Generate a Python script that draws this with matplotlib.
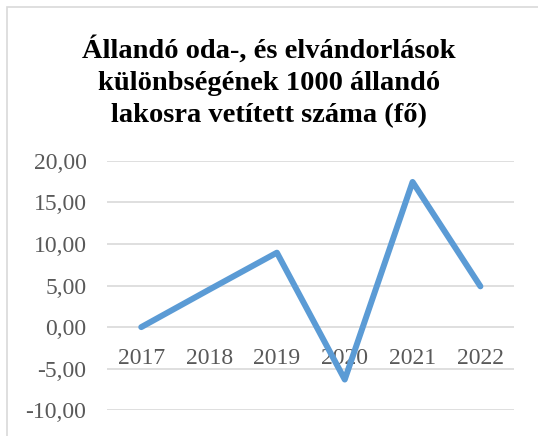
import matplotlib.pyplot as plt
import matplotlib.patches as mpatches
from matplotlib.ticker import FuncFormatter

OUTPUT_IMAGE = "out.png"

# ── Data ───────────────────────────────────────────
years  = ["2017", "2018", "2019", "2020", "2021", "2022"]
values = [0.0, 4.5, 8.95, -6.3, 17.45, 4.9]
y_ticks = [-10, -5, 0, 5, 10, 15, 20]

TITLE = ("Állandó oda-, és elvándorlások\n"
         "különbségének 1000 állandó\n"
         "lakosra vetített száma (fő)")

LINE_COLOR = "#5B9BD5"
GRID_COLOR = "#D9D9D9"
TEXT_COLOR = "#595959"
SERIF = ["Liberation Serif", "DejaVu Serif"]

fig = plt.figure(figsize=(5.38, 4.36), dpi=100)
ax = fig.add_axes([0.1995, 0.0589, 0.7565, 0.5725])

# chart-area border (only left/top edges show in the crop)
fig.patches.append(mpatches.Rectangle((7 / 538, -0.1), 1.2, (436 - 7) / 436 + 0.1,
                                      transform=fig.transFigure, fill=False,
                                      edgecolor=GRID_COLOR, linewidth=1.2))

x = list(range(len(years)))
ax.plot(x, values, color=LINE_COLOR, linewidth=4.3,
        solid_joinstyle="round", solid_capstyle="round", zorder=3)

ax.set_xlim(-0.5, len(years) - 0.5)
ax.set_ylim(-10, 20)
ax.set_yticks(y_ticks)
ax.yaxis.set_major_formatter(FuncFormatter(lambda v, p: f"{v:.2f}".replace(".", ",")))
ax.grid(axis="y", color=GRID_COLOR, linewidth=1.2, zorder=1)

# category labels sit under the zero line
ax.set_xticks(x)
ax.set_xticklabels(years)
ax.spines["bottom"].set_position(("data", 0))
for side in ["top", "right", "left", "bottom"]:
    ax.spines[side].set_visible(False)

ax.tick_params(axis="both", length=0, colors=TEXT_COLOR, labelsize=17)
ax.tick_params(axis="y", pad=15)
ax.tick_params(axis="x", pad=15)
for lbl in ax.get_xticklabels() + ax.get_yticklabels():
    lbl.set_family(SERIF)
    lbl.set_color(TEXT_COLOR)

fig.text(0.5, 0.812, TITLE, ha="center", va="center", fontsize=20.5,
         fontweight="bold", family=SERIF, color="black", linespacing=1.36)

plt.savefig(OUTPUT_IMAGE, dpi=100, facecolor="white")
plt.close()
